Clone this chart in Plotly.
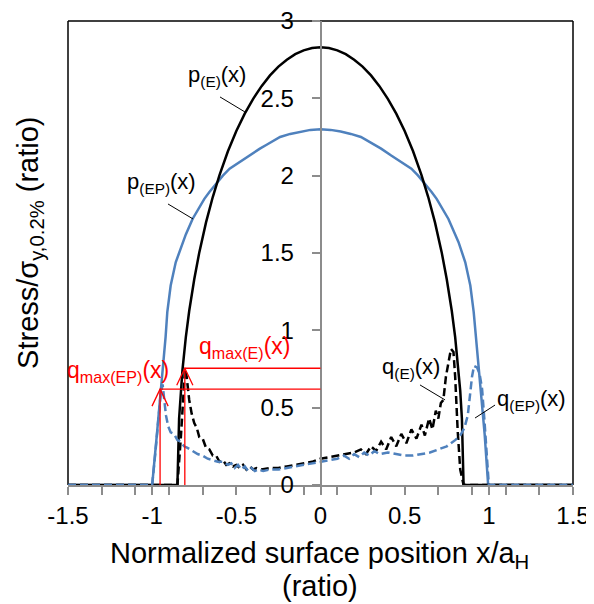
import plotly.graph_objects as go

# ---------------- data ----------------
pE_x = [-1.5, -0.85, -0.84, -0.83, -0.82, -0.80, -0.78, -0.75, -0.72, -0.68, -0.64, -0.60,
        -0.55, -0.50, -0.45, -0.40, -0.35, -0.30, -0.25, -0.20, -0.15, -0.10, -0.05, 0.0,
        0.05, 0.10, 0.15, 0.20, 0.25, 0.30, 0.35, 0.40, 0.45, 0.50, 0.55, 0.60, 0.64,
        0.68, 0.72, 0.75, 0.78, 0.80, 0.82, 0.83, 0.84, 0.85, 1.5]
pE_y = [0.0, 0.0, 0.43, 0.61, 0.745, 0.956, 1.125, 1.33, 1.504, 1.698, 1.862, 2.004,
        2.158, 2.289, 2.401, 2.497, 2.579, 2.648, 2.705, 2.750, 2.786, 2.810, 2.825, 2.83,
        2.825, 2.810, 2.786, 2.750, 2.705, 2.648, 2.579, 2.497, 2.401, 2.289, 2.158, 2.004, 1.862,
        1.698, 1.504, 1.33, 1.125, 0.956, 0.745, 0.61, 0.43, 0.0, 0.0]

pEP_x = [-1.5, -1.0, -0.97, -0.945, -0.93, -0.92, -0.91, -0.89, -0.86, -0.82, -0.80, -0.76,
         -0.73, -0.69, -0.66, -0.62, -0.58, -0.54, -0.48, -0.42, -0.36, -0.32, -0.24, -0.18,
         -0.12, -0.06, 0.0,
         0.06, 0.12, 0.18, 0.24, 0.32, 0.36, 0.42, 0.48, 0.54, 0.58, 0.62, 0.66, 0.69, 0.73,
         0.76, 0.80, 0.82, 0.86, 0.89, 0.91, 0.92, 0.93, 0.955, 0.975, 0.996, 1.5]
pEP_y = [0.0, 0.0, 0.35, 0.66, 0.81, 0.96, 1.12, 1.29, 1.44, 1.57, 1.62, 1.72,
         1.78, 1.85, 1.895, 1.95, 2.0, 2.045, 2.09, 2.13, 2.175, 2.20, 2.25, 2.27,
         2.285, 2.296, 2.30,
         2.296, 2.285, 2.27, 2.25, 2.20, 2.175, 2.13, 2.09, 2.045, 2.0, 1.95, 1.895, 1.85, 1.78,
         1.72, 1.62, 1.57, 1.44, 1.29, 1.12, 1.0, 0.88, 0.62, 0.33, 0.0, 0.0]

qE_x = [-1.5, -0.85, -0.83, -0.815, -0.805, -0.795, -0.78, -0.765, -0.75, -0.735, -0.72, -0.70,
        -0.68, -0.66, -0.64, -0.62, -0.60, -0.58, -0.56, -0.54, -0.52, -0.50, -0.48, -0.46,
        -0.44, -0.42, -0.40, -0.38, -0.35, -0.30, -0.25, -0.20, -0.15, -0.10, -0.05, 0.0,
        0.05, 0.10, 0.15, 0.20, 0.24, 0.27, 0.30, 0.33, 0.36, 0.39, 0.42, 0.45, 0.48, 0.51,
        0.54, 0.57, 0.60, 0.62, 0.645, 0.665, 0.685, 0.70, 0.715, 0.73, 0.745, 0.76, 0.775,
        0.79, 0.80, 0.815, 0.83, 0.85, 1.5]
qE_y = [0.0, 0.0, 0.30, 0.62, 0.75, 0.70, 0.55, 0.46, 0.40, 0.37, 0.31, 0.30,
        0.24, 0.23, 0.19, 0.19, 0.15, 0.16, 0.13, 0.14, 0.12, 0.13, 0.11, 0.13,
        0.10, 0.12, 0.10, 0.11, 0.10, 0.11, 0.11, 0.12, 0.13, 0.14, 0.15, 0.17,
        0.18, 0.19, 0.20, 0.21, 0.23, 0.20, 0.25, 0.22, 0.28, 0.23, 0.31, 0.25, 0.33, 0.27,
        0.36, 0.30, 0.39, 0.32, 0.43, 0.36, 0.48, 0.43, 0.53, 0.55, 0.70, 0.80, 0.88,
        0.86, 0.70, 0.35, 0.10, 0.0, 0.0]

qEP_x = [-1.5, -1.0, -0.98, -0.965, -0.95, -0.938, -0.928, -0.918, -0.905, -0.89, -0.87, -0.85,
         -0.83, -0.81, -0.79, -0.76, -0.73, -0.70, -0.67, -0.64, -0.61, -0.58, -0.55, -0.53,
         -0.51, -0.49, -0.47, -0.45, -0.43, -0.41, -0.39, -0.37, -0.34, -0.30, -0.25, -0.20,
         -0.15, -0.10, -0.05, 0.0, 0.05, 0.10, 0.14, 0.17, 0.20, 0.23, 0.26, 0.29, 0.32, 0.35,
         0.40, 0.45, 0.50, 0.55, 0.60, 0.65, 0.70, 0.75, 0.80, 0.83, 0.855, 0.875, 0.89, 0.90,
         0.912, 0.93, 0.945, 0.96, 0.975, 0.99, 1.0, 1.5]
qEP_y = [0.0, 0.0, 0.22, 0.42, 0.58, 0.65, 0.56, 0.45, 0.38, 0.34, 0.33, 0.29,
         0.28, 0.25, 0.24, 0.22, 0.20, 0.19, 0.17, 0.16, 0.15, 0.15, 0.13, 0.14,
         0.11, 0.13, 0.10, 0.12, 0.09, 0.11, 0.09, 0.10, 0.09, 0.10, 0.10, 0.11,
         0.12, 0.13, 0.14, 0.15, 0.16, 0.17, 0.19, 0.17, 0.20, 0.18, 0.21, 0.19, 0.22, 0.20,
         0.21, 0.20, 0.19, 0.19, 0.20, 0.21, 0.23, 0.25, 0.29, 0.32, 0.37, 0.45, 0.60, 0.70,
         0.77, 0.76, 0.72, 0.62, 0.40, 0.12, 0.0, 0.0]

# peak shear positions / values marked with red arrows: (EP), (E)
qmax_x = [-0.953, -0.806]
qmax_y = [0.62, 0.755]

x_tick_vals = [-1.5, -1.0, -0.5, 0.0, 0.5, 1.0, 1.5]
x_tick_labels = ["-1.5", "-1", "-0.5", "0", "0.5", "1", "1.5"]
y_tick_vals = [0, 0.5, 1, 1.5, 2, 2.5, 3]
y_tick_labels = ["0", "0.5", "1", "1.5", "2", "2.5", "3"]

# ---------------- styling ----------------
FONT = "Arial, Liberation Sans, sans-serif"
BLUE = "#4F81BD"
RED = "#FF0000"
GRAY = "#8C8C8C"

fig = go.Figure()
fig.add_trace(go.Scatter(x=pEP_x, y=pEP_y, mode="lines",
                         line=dict(color=BLUE, width=2.5), name="p(EP)"))
fig.add_trace(go.Scatter(x=pE_x, y=pE_y, mode="lines",
                         line=dict(color="black", width=2.5), name="p(E)"))
fig.add_trace(go.Scatter(x=qE_x, y=qE_y, mode="lines",
                         line=dict(color="black", width=2.5, dash="8px,4px"), name="q(E)"))
fig.add_trace(go.Scatter(x=qEP_x, y=qEP_y, mode="lines",
                         line=dict(color=BLUE, width=2.5, dash="8px,4px"), name="q(EP)"))

shapes = []
# plot frame (left, top, right)
for x0, y0, x1, y1 in [(0, 0, 0, 1), (0, 1, 1, 1), (1, 0, 1, 1)]:
    shapes.append(dict(type="line", xref="paper", yref="paper", x0=x0, y0=y0, x1=x1, y1=y1,
                       line=dict(color="black", width=1.5), layer="below"))

# red arrows and horizontal markers
ax_dx, ax_dy = 0.048, 0.11
for xq, yq in zip(qmax_x, qmax_y):
    shapes.append(dict(type="line", xref="x", yref="y", x0=xq, y0=0, x1=xq, y1=yq,
                       line=dict(color=RED, width=1.3)))
    shapes.append(dict(type="line", xref="x", yref="y", x0=xq, y0=yq, x1=0, y1=yq,
                       line=dict(color=RED, width=1.3)))
    shapes.append(dict(type="path", xref="x", yref="y",
                       path=f"M {xq - ax_dx},{yq - ax_dy} L {xq},{yq} L {xq + ax_dx},{yq - ax_dy}",
                       line=dict(color=RED, width=1.3)))

# leader lines for labels
leaders = [(-0.597, 2.509, -0.449, 2.412),
           (-0.906, 1.817, -0.757, 1.720),
           (0.591, 0.647, 0.740, 0.550),
           (1.037, 0.517, 0.918, 0.433)]
for x0, y0, x1, y1 in leaders:
    shapes.append(dict(type="line", xref="x", yref="y", x0=x0, y0=y0, x1=x1, y1=y1,
                       line=dict(color="black", width=1)))

annotations = []
def label(text, x, y, color="black", size=22):
    annotations.append(dict(text=text, x=x, y=y, xref="x", yref="y", showarrow=False,
                            xanchor="center", yanchor="middle",
                            font=dict(family=FONT, size=size, color=color)))

label("p<sub>(E)</sub>(x)", -0.615, 2.644)
label("p<sub>(EP)</sub>(x)", -0.942, 1.953)
label("q<sub>(E)</sub>(x)", 0.538, 0.756)
label("q<sub>(EP)</sub>(x)", 1.256, 0.550)
label("q<sub>max(EP)</sub>(x)", -1.203, 0.731, RED, 23)
label("q<sub>max(E)</sub>(x)", -0.454, 0.886, RED, 23)

# axis titles
annotations.append(dict(text="Stress/σ<sub>y,0.2%</sub> (ratio)", textangle=-90,
                        x=-0.075, y=0.522, xref="paper", yref="paper", showarrow=False,
                        xanchor="center", yanchor="middle",
                        font=dict(family=FONT, size=29, color="black")))
annotations.append(dict(text="Normalized surface position x/a<sub>H</sub>",
                        x=0.499, y=-0.151, xref="paper", yref="paper", showarrow=False,
                        xanchor="center", yanchor="middle",
                        font=dict(family=FONT, size=29, color="black")))
annotations.append(dict(text="(ratio)",
                        x=0.499, y=-0.218, xref="paper", yref="paper", showarrow=False,
                        xanchor="center", yanchor="middle",
                        font=dict(family=FONT, size=29, color="black")))

# the page body adds an 8px offset, so the figure is 8px smaller and margins are shifted
fig.update_layout(
    width=586, height=596,
    margin=dict(l=60, r=21, t=13, b=119, autoexpand=False),
    paper_bgcolor="white", plot_bgcolor="white",
    showlegend=False,
    font=dict(family=FONT, size=24, color="black"),
    shapes=shapes, annotations=annotations,
    xaxis=dict(range=[-1.5, 1.5], tickmode="array", tickvals=x_tick_vals, ticktext=x_tick_labels,
               automargin=False, ticklabeloverflow="allow",
               showgrid=False, zeroline=False, showline=True, linecolor=GRAY, linewidth=1.5,
               ticks="outside", ticklen=8, tickcolor=GRAY, tickwidth=1.5,
               tickfont=dict(family=FONT, size=24, color="black"),
               minor=dict(tickmode="linear", tick0=-1.5, dtick=0.2, ticks="outside",
                          ticklen=8, tickcolor=GRAY, tickwidth=1.5, showgrid=False)),
    yaxis=dict(range=[0, 3], tickmode="array", tickvals=y_tick_vals, ticktext=y_tick_labels,
               automargin=False, ticklabeloverflow="allow",
               anchor="free", position=0.5,
               showgrid=False, zeroline=False, showline=True, linecolor=GRAY, linewidth=1.5,
               ticks="outside", ticklen=8, tickcolor=GRAY, tickwidth=1.5,
               ticklabelstandoff=13,
               tickfont=dict(family=FONT, size=24, color="black")),
)

fig.write_html("out.html")
